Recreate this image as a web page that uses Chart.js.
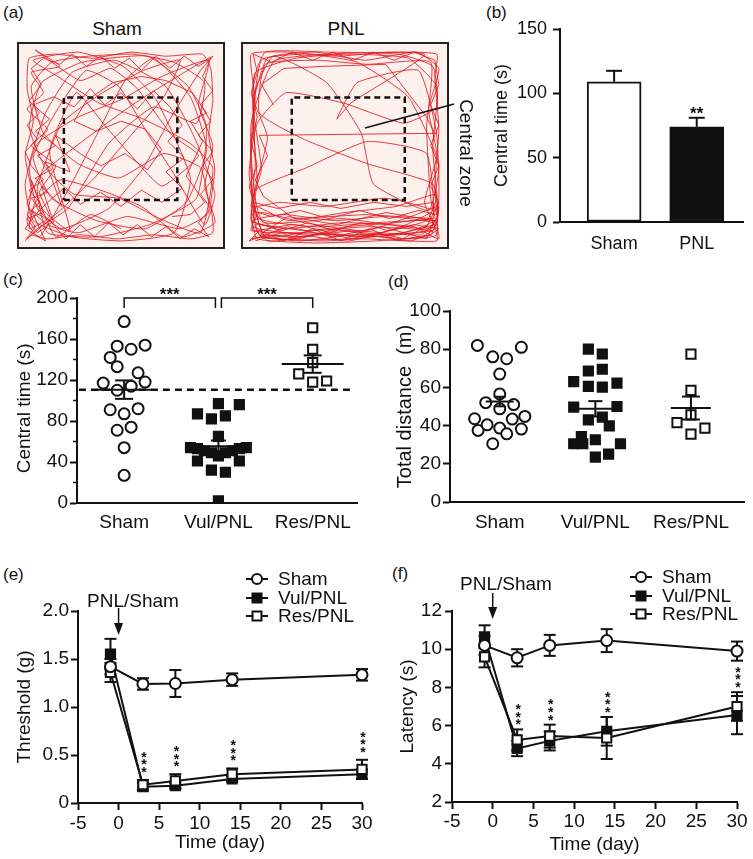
<!DOCTYPE html>
<html>
<head>
<meta charset="utf-8">
<script src="https://cdn.jsdelivr.net/npm/chart.js@4.4.1/dist/chart.umd.min.js"></script>
<style>
  body { margin: 0; background: #fff; }
  #fig { position: relative; width: 753px; height: 859px; overflow: hidden;
         font-family: 'Liberation Sans', Arial, Helvetica, sans-serif; color: #111; }
  canvas { position: absolute; }
  .t { position: absolute; line-height: 1; white-space: nowrap; }
  .c { transform: translate(-50%, -50%); }
  .trk { position: absolute; box-sizing: border-box; border: 2px solid #222; background: #fcf1ec; }
  .trk canvas { left: 0; top: 0; }
</style>
</head>
<body>
<div id="fig">
  <div class="t" style="left:3px;top:4px;font-size:17px">(a)</div>
  <div class="t" style="left:486px;top:4px;font-size:17px">(b)</div>
  <div class="t" style="left:3px;top:271px;font-size:17px">(c)</div>
  <div class="t" style="left:388px;top:273px;font-size:17px">(d)</div>
  <div class="t" style="left:3px;top:566px;font-size:17px">(e)</div>
  <div class="t" style="left:392px;top:565px;font-size:17px">(f)</div>

  <div class="t c" style="left:117px;top:28px;font-size:19px">Sham</div>
  <div class="t c" style="left:346px;top:28px;font-size:19px">PNL</div>
  <div class="trk" style="left:17px;top:42px;width:208px;height:207px"><canvas id="trackSham" width="204" height="203"></canvas></div>
  <div class="trk" style="left:241px;top:42px;width:208px;height:207px"><canvas id="trackPnl" width="204" height="203"></canvas></div>
  <svg style="position:absolute;left:0;top:0" width="753" height="260">
    <line x1="365" y1="128" x2="454" y2="104" stroke="#111" stroke-width="1.5"/>
  </svg>
  <div class="t" style="left:466px;top:153px;font-size:19px;transform:translate(-50%,-50%) rotate(90deg)">Central zone</div>

  <canvas id="chartB" width="268" height="262" style="left:480px;top:0px"></canvas>
  <canvas id="chartC" width="367" height="281" style="left:0px;top:262px"></canvas>
  <canvas id="chartD" width="368" height="280" style="left:385px;top:262px"></canvas>
  <canvas id="chartE" width="377" height="309" style="left:0px;top:545px"></canvas>
  <canvas id="chartF" width="368" height="311" style="left:385px;top:545px"></canvas>
</div>

<script>
// ---- data ----

// (a) open field tracks, % of arena (x right, y up), and the central zone [x0, x1, y0, y1]
const shamZone = [22, 77.6, 23.2, 73.7];
const pnlZone = [23.9, 79.3, 23.2, 73.7];
const shamTrack = [
  6,6, 14,4, 30,6, 48,4, 66,6, 84,4, 95,7, 94,22, 96,38, 93,55, 95,72, 94,88, 90,95, 72,94, 55,96, 36,93, 18,95, 5,93,
  4,78, 7,62, 3,45, 6,28, 4,12, 10,5, 24,28, 38,55, 52,82, 66,93, 84,74, 92,48, 82,22, 62,9, 38,13, 16,24,
  7,44, 19,68, 33,87, 49,79, 63,56, 76,36, 91,11, 96,26, 86,54, 72,79, 47,92, 26,86, 13,66, 5,40, 9,19, 21,9,
  44,19, 61,39, 74,63, 89,87, 95,94, 81,86, 57,71, 31,52, 11,36, 4,21, 14,11, 29,7, 53,15, 79,9, 93,17, 89,39,
  71,46, 49,34, 29,41, 12,56, 6,79, 16,91, 34,94, 56,95, 76,91, 91,81, 87,61, 66,69, 44,51, 24,19, 9,9, 4,4,
  19,17, 37,34, 54,54, 71,74, 79,92, 61,87, 41,76, 21,61, 9,29, 14,7, 39,5, 64,11, 87,24, 92,59, 83,79, 63,94,
  31,91, 11,81, 5,59, 13,39, 27,26, 49,24, 69,14, 89,7, 95,39, 84,51, 61,63, 39,71, 19,84, 7,92, 29,96, 51,89,
  67,73, 84,34, 76,7, 51,3, 26,5, 7,13, 3,31, 9,51, 29,64, 51,73, 70,84, 93,92, 88,70, 95,50, 91,30, 96,12,
  80,5, 60,20, 40,28, 20,33, 8,22, 5,9, 15,15, 10,27, 18,40, 6,50, 14,58, 4,68, 12,76, 6,86, 20,89, 8,97,
  30,82, 45,88, 58,78, 75,55, 88,45, 70,30, 55,45, 42,60, 28,76, 15,47, 25,8, 12,18, 6,33, 18,5, 35,16, 50,9
];
const shamWiggle = [
  3,3, 8,10, 4,16, 10,22, 5,28, 12,33, 6,40, 3,47, 9,53, 4,60, 10,66, 5,72, 11,80, 6,88, 12,93, 20,90, 26,95, 33,89,
  40,94, 47,88, 54,93, 60,87, 67,94, 74,88, 81,94, 88,89, 94,93, 90,84, 95,77, 89,70, 94,62, 88,55, 95,47, 90,40,
  95,33, 89,26, 94,19, 88,12, 93,5, 86,9, 79,4, 72,10, 65,5, 58,11, 51,6, 44,12, 37,5, 30,11, 23,4, 16,12, 9,7,
  4,14, 12,17, 6,24, 14,27, 8,34, 16,38, 9,45, 18,50, 8,57, 15,63, 7,70, 17,74, 27,69, 35,78, 42,70, 50,76, 58,68,
  66,77, 74,69, 80,60, 73,52, 81,44, 72,37, 80,29, 70,22, 60,28, 50,20, 40,27, 30,21, 22,29, 14,22, 8,16, 3,9,
  13,3, 6,18, 17,12, 11,30, 21,20, 13,42, 25,37, 18,55, 30,46, 40,40, 52,46, 63,38, 70,48, 62,58, 50,62, 38,57,
  27,62, 33,72, 46,81, 60,84, 72,82, 85,76, 92,66, 84,62, 90,52, 82,35, 91,22, 84,16, 75,15
];
const pnlTrack = [
  5,5, 28,3, 55,6, 80,4, 95,6, 94,30, 96,58, 94,84, 95,95, 72,96, 46,94, 22,96, 4,95, 6,72, 4,46, 6,22, 5,8,
  34,7, 63,5, 93,8, 62,10, 31,8, 6,11, 9,5, 41,3, 79,7, 95,14, 93,49, 95,79, 81,93, 51,95, 26,93, 6,86,
  5,61, 7,31, 4,13, 21,9, 49,12, 84,10, 96,4, 92,24, 90,59, 92,91, 61,90, 36,92, 11,90, 8,66, 30,53,
  61,41, 93,31, 95,12, 71,6, 41,9, 11,5, 5,24, 12,54, 5,74, 15,94, 41,81, 58,56, 64,31, 91,18, 96,41,
  81,74, 56,91, 31,95, 9,92, 4,51, 6,16, 24,5, 54,8, 87,6, 94,13, 66,12, 36,10, 8,14, 3,36, 7,61, 21,76,
  49,71, 79,61, 95,69, 93,89, 76,95, 41,96, 11,96, 5,81, 6,41, 5,10, 44,6, 92,9, 90,46, 61,52, 31,39,
  6,28, 10,12, 49,14, 94,10, 95,55, 86,87, 56,81, 46,63, 53,71, 89,95, 16,92, 4,61, 8,6, 61,4, 95,3,
  93,12, 70,15, 45,13, 20,16, 5,13, 7,4, 35,2, 65,3, 92,6, 96,20, 85,16, 60,8, 30,12, 8,17, 4,8, 25,11,
  55,5, 90,13, 95,26, 75,20, 50,17, 22,13, 6,20, 12,3, 48,8, 82,3, 94,9, 89,22, 95,45, 91,68, 96,88,
  85,96, 60,92, 35,96, 12,93, 5,70, 9,38, 4,20, 18,22, 40,20, 70,24, 93,18, 80,11, 52,3, 20,7, 6,3
];
const pnlWiggle = [
  4,4, 15,6, 27,4, 40,7, 53,4, 66,7, 79,4, 92,6, 96,9, 84,11, 71,8, 58,12, 45,8, 32,12, 19,8, 6,12, 4,18, 14,15,
  28,18, 42,14, 57,18, 72,14, 86,18, 95,16, 93,22, 80,20, 64,22, 48,19, 33,22, 17,19, 5,22, 3,30, 7,40, 4,52,
  7,64, 4,76, 7,86, 5,95, 14,91, 24,96, 34,92, 44,96, 54,92, 64,96, 74,92, 84,96, 94,92, 96,80, 92,70, 96,60,
  92,50, 96,40, 92,30, 96,22, 90,10, 76,3, 62,9, 48,3, 34,9, 20,3, 8,8, 3,3, 22,10, 44,5, 68,10, 90,4, 94,13,
  70,17, 46,11, 22,15, 8,6, 30,5, 50,10, 75,12, 93,14, 60,16, 25,14, 10,25, 6,33, 12,45, 8,55, 94,56, 90,64,
  70,90, 40,89, 20,88, 9,80, 15,70
];

// (b) central time, mean and SEM
const barGroups = ['Sham', 'PNL'];
const barMeans = [109, 74];
const barSems = [8.5, 7];

// (c) central time per animal; slot = horizontal scatter offset in symbol widths
const groups3 = ['Sham', 'Vul/PNL', 'Res/PNL'];
const shamCt = [177, 153, 150, 154, 142, 133, 127, 117, 114, 118, 110, 91, 87, 92, 71, 74, 54, 27];
const shamCtSlot = [0, -1, 1, 3, -2, -1, 2, -3, 1, 3, -1, -2, 0, 2, -1, 1, 0, 0];
const vulCt = [97, 96, 87, 85, 82, 65, 54, 53, 51, 49, 46, 49, 51, 53, 54, 41, 41, 32, 30, 2];
const vulCtSlot = [0, 3, -3, 1, -1, 0, -4, -3, -2, -1, 0, 1, 2, 3, 4, -3, 3, -1, 1, 0];
const resCt = [171, 150, 137, 126, 118, 119];
const resCtSlot = [0, 0, 0, -2, 0, 2];
const ctMeans = [110.6, 55.3, 135.5];
const ctSems = [9, 5.7, 8.5];

// (d) total distance per animal
const shamTd = [82, 76, 75, 81, 67, 56.6, 52, 51, 48.8, 43.6, 43.4, 44.8, 37.5, 40.4, 38.7, 38.2, 35.7, 30.5];
const shamTdSlot = [-3.2, -1, 1, 3.1, 0, 0, -2, 2, 0, -3.6, 1.8, 3.6, -3.1, -1.8, 0, 3.1, 1, -1];
const vulTd = [80, 77.5, 68.6, 69.5, 63, 60.5, 60.1, 62.2, 49.7, 50, 43, 44.4, 39.9, 34.3, 30.5, 30.5, 32.6, 30.5, 23.5, 25.1];
const vulTdSlot = [-1, 1, -1, 1, -3.1, -1, 1, 3.1, -3.1, 3.1, -1, 1, 2, -2, -3.1, -1.8, 0, 3.6, 0, 1.9];
const resTd = [77.4, 58.4, 45.6, 41.6, 38.7, 35.5];
const resTdSlot = [0, 0, 0, -2, 2, 0];
const tdMeans = [52.6, 48.8, 49.2];
const tdSems = [2.5, 4, 6];

// (e), (f) time courses
const days = [-1, 3, 7, 14, 30];
const shamThr = [1.42, 1.24, 1.245, 1.285, 1.335];
const shamThrSem = [0.08, 0.06, 0.14, 0.065, 0.06];
const vulThr = [1.55, 0.17, 0.18, 0.25, 0.30];
const vulThrSem = [0.16, 0.04, 0.03, 0.03, 0.05];
const resThr = [1.36, 0.19, 0.23, 0.30, 0.35];
const resThrSem = [0.1, 0.05, 0.07, 0.06, 0.1];

const shamLat = [10.2, 9.55, 10.2, 10.45, 9.9];
const shamLatSem = [0.5, 0.45, 0.55, 0.6, 0.5];
const vulLat = [10.65, 4.8, 5.2, 5.7, 6.55];
const vulLatSem = [0.6, 0.4, 0.5, 0.75, 1.0];
const resLat = [9.6, 5.25, 5.45, 5.35, 7.0];
const resLatSem = [0.55, 0.55, 0.6, 1.1, 0.75];

const legendNames = ['Sham', 'Vul/PNL', 'Res/PNL'];

// ---- drawing ----
const INK = '#111';
const TRACK_RED = 'rgba(224,26,34,0.85)';
const FONT = "'Liberation Sans', Arial, Helvetica, sans-serif";
Chart.defaults.font.family = FONT;
Chart.defaults.color = INK;
Chart.defaults.animation = false;
Chart.defaults.events = [];
Chart.defaults.plugins.legend.display = false;
Chart.defaults.plugins.tooltip.enabled = false;

function toPts(flat) {
  const pts = [];
  for (let i = 0; i < flat.length; i += 2) pts.push({ x: flat[i], y: flat[i + 1] });
  return pts;
}
function zonePts(z) {
  return [{ x: z[0], y: z[2] }, { x: z[1], y: z[2] }, { x: z[1], y: z[3] }, { x: z[0], y: z[3] }, { x: z[0], y: z[2] }];
}
function groupPts(vals, slots, center, unit) {
  return vals.map((v, i) => ({ x: center + slots[i] * unit, y: v }));
}
function seriesPts(vals) {
  return vals.map((v, i) => ({ x: days[i], y: v }));
}
function seg(ctx, x1, y1, x2, y2) {
  ctx.beginPath(); ctx.moveTo(x1, y1); ctx.lineTo(x2, y2); ctx.stroke();
}
function stars(ctx, text, x, cy, size) {
  ctx.font = 'bold ' + size + 'px ' + FONT;
  ctx.fillStyle = INK; ctx.textAlign = 'center'; ctx.textBaseline = 'alphabetic';
  ctx.fillText(text, x, cy + size * 0.57);
}
function errBars(chart, xs, vals, sems, cap, upOnly) {
  const ctx = chart.ctx, xS = chart.scales.x, yS = chart.scales.y;
  ctx.save(); ctx.strokeStyle = INK; ctx.lineWidth = 2;
  xs.forEach((xv, i) => {
    const px = xS.getPixelForValue(xv);
    const top = yS.getPixelForValue(vals[i] + sems[i]);
    const bot = yS.getPixelForValue(upOnly ? vals[i] : vals[i] - sems[i]);
    seg(ctx, px, top, px, bot);
    seg(ctx, px - cap, top, px + cap, top);
    if (!upOnly) seg(ctx, px - cap, bot, px + cap, bot);
  });
  ctx.restore();
}
function meanSem(chart, means, sems, halfW, caps) {
  const ctx = chart.ctx, xS = chart.scales.x, yS = chart.scales.y;
  ctx.save(); ctx.strokeStyle = INK; ctx.lineWidth = 2;
  means.forEach((m, i) => {
    const px = xS.getPixelForValue(i), py = yS.getPixelForValue(m);
    const top = yS.getPixelForValue(m + sems[i]), bot = yS.getPixelForValue(m - sems[i]);
    seg(ctx, px - halfW[i], py, px + halfW[i], py);
    seg(ctx, px, top, px, bot);
    seg(ctx, px - caps[i], top, px + caps[i], top);
    seg(ctx, px - caps[i], bot, px + caps[i], bot);
  });
  ctx.restore();
}
function marker(ctx, kind, x, y, r) {
  ctx.beginPath();
  if (kind === 'circle') ctx.arc(x, y, r, 0, Math.PI * 2);
  else ctx.rect(x - r, y - r, 2 * r, 2 * r);
  ctx.fillStyle = kind === 'filled' ? INK : '#fff';
  ctx.fill(); ctx.lineWidth = 2; ctx.strokeStyle = INK; ctx.stroke();
}
function legendBlock(ctx, x, ys) {
  const kinds = ['circle', 'filled', 'open'];
  ctx.save(); ctx.strokeStyle = INK; ctx.lineWidth = 2;
  ctx.font = '19px ' + FONT; ctx.textBaseline = 'middle'; ctx.textAlign = 'left';
  ys.forEach((y, i) => {
    seg(ctx, x - 11, y, x + 11, y);
    marker(ctx, kinds[i], x, y, kinds[i] === 'circle' ? 5 : 4.5);
    ctx.fillStyle = INK;
    ctx.fillText(legendNames[i], x + 21, y + 1);
  });
  ctx.restore();
}
function arrowLabel(ctx, x, y1, y2, tx, ty) {
  ctx.save(); ctx.strokeStyle = INK; ctx.fillStyle = INK; ctx.lineWidth = 1.5;
  seg(ctx, x, y1, x, y2 - 10);
  ctx.beginPath(); ctx.moveTo(x - 4.5, y2 - 12); ctx.lineTo(x + 4.5, y2 - 12); ctx.lineTo(x, y2); ctx.closePath(); ctx.fill();
  ctx.font = '19px ' + FONT; ctx.textAlign = 'center'; ctx.textBaseline = 'middle';
  ctx.fillText('PNL/Sham', tx, ty + 1);
  ctx.restore();
}
function starStacks(chart, vA, sA, vB, sB, gap, step) {
  const ctx = chart.ctx, xS = chart.scales.x, yS = chart.scales.y;
  for (let j = 1; j < days.length; j++) {
    const top = Math.max(vA[j] + sA[j], vB[j] + sB[j]);
    const px = xS.getPixelForValue(days[j]), py = yS.getPixelForValue(top);
    for (let k = 0; k < 3; k++) stars(ctx, '*', px + 1, py - gap - k * step, 14);
  }
}

function yAxis(o) {
  return {
    type: 'linear', position: 'left', min: o.min, max: o.max,
    afterFit: s => { s.width = o.width; },
    border: { color: INK, width: 2 },
    grid: { drawOnChartArea: false, tickLength: 7, tickColor: INK, tickWidth: 2 },
    ticks: { stepSize: o.step, padding: o.pad, autoSkip: false, color: INK, font: { size: o.size },
             callback: o.fmt || (v => v) },
    title: { display: true, text: o.title, color: INK, padding: 0, font: { size: o.titleSize || o.size } }
  };
}
function groupAxis(o) {
  return {
    type: 'linear', min: o.min, max: o.max, offset: false,
    afterBuildTicks: s => { s.ticks = o.labels.map((_, i) => ({ value: i })); },
    afterFit: s => { s.height = o.height; },
    border: { color: INK, width: 2 },
    grid: { display: false, drawTicks: false, offset: false },
    ticks: { padding: o.pad, autoSkip: false, maxRotation: 0, color: INK, font: { size: o.size },
             callback: v => o.labels[v] }
  };
}
function dayAxis(height, pad) {
  return {
    type: 'linear', min: -5, max: 30,
    afterFit: s => { s.height = height; },
    border: { color: INK, width: 2 },
    grid: { drawOnChartArea: false, tickLength: 7, tickColor: INK, tickWidth: 2 },
    ticks: { stepSize: 5, padding: pad, autoSkip: false, maxRotation: 0, color: INK, font: { size: 19 } },
    title: { display: true, text: 'Time (day)', color: INK, padding: 0, font: { size: 19 } }
  };
}
function dot(kind, r) {
  return {
    pointStyle: kind === 'circle' ? 'circle' : 'rect', pointRadius: r, pointBorderWidth: 2,
    pointBorderColor: INK, pointBackgroundColor: kind === 'filled' ? INK : '#fff'
  };
}

// (a) tracks
function trackChart(id, track, wiggle, zone) {
  new Chart(document.getElementById(id), {
    type: 'scatter',
    data: { datasets: [
      { data: zonePts(zone), showLine: true, borderColor: INK, borderWidth: 2.5, borderDash: [6, 4], pointRadius: 0, order: 0 },
      { data: toPts(track), showLine: true, borderColor: TRACK_RED, borderWidth: 1, pointRadius: 0, tension: 0.15, order: 1 },
      { data: toPts(wiggle), showLine: true, borderColor: TRACK_RED, borderWidth: 1, pointRadius: 0, tension: 0, order: 2 }
    ] },
    options: { responsive: false, layout: { padding: 0 },
      scales: { x: { display: false, min: 0, max: 100 }, y: { display: false, min: 0, max: 100 } } }
  });
}
trackChart('trackSham', shamTrack, shamWiggle, shamZone);
trackChart('trackPnl', pnlTrack, pnlWiggle, pnlZone);

// (b) bars
new Chart(document.getElementById('chartB'), {
  type: 'bar',
  data: { datasets: [{
    data: barMeans.map((v, i) => ({ x: i, y: v })),
    backgroundColor: ['#fff', INK], borderColor: INK, borderWidth: 2, borderSkipped: false, barThickness: 54
  }] },
  options: {
    responsive: false,
    layout: { padding: { left: 11, top: 29, right: 5, bottom: 0 } },
    scales: {
      x: groupAxis({ min: -0.655, max: 1.56, labels: barGroups, height: 40, pad: 11, size: 18 }),
      y: yAxis({ min: 0, max: 150, step: 50, width: 69, pad: 6, size: 18, title: 'Central time (s)' })
    }
  },
  plugins: [{ id: 'bErr', afterDatasetsDraw(chart) {
    errBars(chart, [0, 1], barMeans, barSems, 8, true);
    stars(chart.ctx, '**', chart.scales.x.getPixelForValue(1), chart.scales.y.getPixelForValue(barMeans[1] + barSems[1]) - 8, 17);
  } }]
});

// (c) central time scatter
new Chart(document.getElementById('chartC'), {
  type: 'scatter',
  data: { datasets: [
    Object.assign({ data: groupPts(shamCt, shamCtSlot, 0, 0.074), order: 1 }, dot('circle', 5.5)),
    Object.assign({ data: groupPts(vulCt, vulCtSlot, 1, 0.074), order: 2 }, dot('filled', 6.5)),
    Object.assign({ data: groupPts(resCt, resCtSlot, 2, 0.074), order: 3 }, dot('open', 6.5)),
    { type: 'line', data: [{ x: -0.48, y: ctMeans[0] }, { x: 2.44, y: ctMeans[0] }], borderColor: INK,
      borderWidth: 2.5, borderDash: [7, 5], pointRadius: 0, order: 5 }
  ] },
  options: {
    responsive: false,
    layout: { padding: { left: 13, top: 36, right: 10, bottom: 0 } },
    scales: {
      x: groupAxis({ min: -0.5, max: 2.47, labels: groups3, height: 40, pad: 8, size: 19 }),
      y: yAxis({ min: 0, max: 200, step: 40, width: 64, pad: 2, size: 19, title: 'Central time (s)   ' })
    }
  },
  plugins: [{ id: 'cExtra', afterDatasetsDraw(chart) {
    const ctx = chart.ctx, xS = chart.scales.x, yS = chart.scales.y, a = chart.chartArea;
    meanSem(chart, ctMeans, ctSems, [28, 31, 31], [9, 7.5, 9]);
    ctx.save(); ctx.strokeStyle = INK; ctx.lineWidth = 1.5;
    [20, 60, 100, 140, 180].forEach(v => seg(ctx, a.left - 4, yS.getPixelForValue(v), a.left, yS.getPixelForValue(v)));
    const top = yS.getPixelForValue(200);
    const spans = [[xS.getPixelForValue(0), xS.getPixelForValue(1) - 3], [xS.getPixelForValue(1) + 3, xS.getPixelForValue(2)]];
    spans.forEach(([x1, x2]) => {
      ctx.beginPath(); ctx.moveTo(x1, top + 10); ctx.lineTo(x1, top); ctx.lineTo(x2, top); ctx.lineTo(x2, top + 10); ctx.stroke();
      stars(ctx, '***', (x1 + x2) / 2, top - 8, 17);
    });
    ctx.restore();
  } }]
});

// (d) total distance scatter
new Chart(document.getElementById('chartD'), {
  type: 'scatter',
  data: { datasets: [
    Object.assign({ data: groupPts(shamTd, shamTdSlot, 0, 0.073), order: 1 }, dot('circle', 5.5)),
    Object.assign({ data: groupPts(vulTd, vulTdSlot, 1, 0.073), order: 2 }, dot('filled', 6.5)),
    Object.assign({ data: groupPts(resTd, resTdSlot, 2, 0.073), order: 3 }, dot('open', 6.5))
  ] },
  options: {
    responsive: false,
    layout: { padding: { left: 8.5, top: 49, right: 6, bottom: 0 } },
    scales: {
      x: groupAxis({ min: -0.52, max: 2.56, labels: groups3, height: 40, pad: 9, size: 19 }),
      y: yAxis({ min: 0, max: 100, step: 20, width: 56.5, pad: 2, size: 19, titleSize: 20, title: 'Total distance  (m)' })
    }
  },
  plugins: [{ id: 'dExtra', afterDatasetsDraw(chart) {
    meanSem(chart, tdMeans, tdSems, [14, 17, 20], [6, 7, 9]);
  } }]
});

// (e), (f) time courses
function courseChart(id, o) {
  new Chart(document.getElementById(id), {
    type: 'line',
    data: { datasets: [
      Object.assign({ data: seriesPts(o.sham), borderColor: INK, borderWidth: 2, clip: false, order: 0 }, dot('circle', 5.5)),
      Object.assign({ data: seriesPts(o.vul), borderColor: INK, borderWidth: 2, clip: false, order: 2 }, dot('filled', 6.5)),
      Object.assign({ data: seriesPts(o.res), borderColor: INK, borderWidth: 2, clip: false, order: 1 }, dot('open', 6.5))
    ] },
    options: {
      responsive: false,
      layout: { padding: o.padding },
      scales: { x: dayAxis(o.xh, o.xpad), y: o.y }
    },
    plugins: [{ id: id + 'x',
      beforeDatasetsDraw(chart) {
        errBars(chart, days, o.sham, o.shamSem, 6, false);
        errBars(chart, days, o.vul, o.vulSem, 6, false);
        errBars(chart, days, o.res, o.resSem, 6, false);
      },
      afterDatasetsDraw(chart) {
        const ctx = chart.ctx;
        starStacks(chart, o.vul, o.vulSem, o.res, o.resSem, o.starGap, o.starStep);
        legendBlock(ctx, o.legendX, o.legendY);
        arrowLabel(ctx, chart.scales.x.getPixelForValue(0), o.arrow[0], o.arrow[1], o.text[0], o.text[1]);
      }
    }]
  });
}
courseChart('chartE', {
  sham: shamThr, shamSem: shamThrSem, vul: vulThr, vulSem: vulThrSem, res: resThr, resSem: resThrSem,
  padding: { left: 13.6, top: 66, right: 15, bottom: 0 }, xh: 51, xpad: 2,
  y: yAxis({ min: 0, max: 2, step: 0.5, width: 64.4, pad: 2, size: 19, title: 'Threshold (g)',
             fmt: v => (v === 0 ? '0' : v.toFixed(1)) }),
  starGap: 11, starStep: 7.5,
  legendX: 257, legendY: [34, 53, 71],
  arrow: [63, 90], text: [133, 56]
});
courseChart('chartF', {
  sham: shamLat, shamSem: shamLatSem, vul: vulLat, vulSem: vulLatSem, res: resLat, resSem: resLatSem,
  padding: { left: 11.6, top: 66, right: 16, bottom: 0 }, xh: 54, xpad: 1,
  y: yAxis({ min: 2, max: 12, step: 2, width: 55.4, pad: 3, size: 19, title: 'Latency (s)' }),
  starGap: 8, starStep: 7.7,
  legendX: 256, legendY: [32, 51, 69],
  arrow: [48, 74], text: [121, 39]
});
</script>
</body>
</html>
